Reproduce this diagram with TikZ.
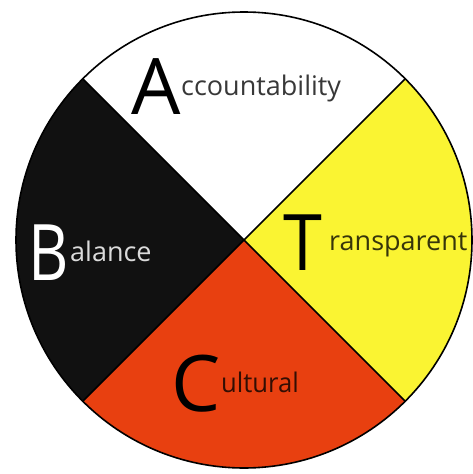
\documentclass[tikz,border=0pt]{standalone}
\usepackage{fontspec}
\setmainfont{Open Sans}
\usetikzlibrary{calc}

\definecolor{wheelyellow}{RGB}{250,244,50}
\definecolor{wheelred}{RGB}{232,64,16}
\definecolor{wheelblack}{RGB}{17,17,17}

\tikzset{
  rim/.style={draw=black, line width=1.6pt},
  initial/.style={inner sep=0pt, anchor=base west, font=\fontsize{78}{78}\selectfont},
  resttext/.style={inner sep=0pt, anchor=base west, font=\fontsize{27}{27}\selectfont, text opacity=0.78}
}

\begin{document}
\begin{tikzpicture}[x=1pt, y=-1pt]

  \useasboundingbox (0,0) rectangle (472,474);

  % pusat roda dan titik ujung diagonal
  \coordinate (O) at (244,240);
  \coordinate (ne) at ($(O)+(-45:228)$);
  \coordinate (se) at ($(O)+(45:228)$);
  \coordinate (sw) at ($(O)+(135:228)$);
  \coordinate (nw) at ($(O)+(225:228)$);

  % --- empat kuadran ---
  \fill[white]       (O) -- (nw) arc[start angle=225, end angle=315, radius=228] -- cycle;
  \fill[wheelyellow] (O) -- (ne) arc[start angle=-45, end angle=45, radius=228] -- cycle;
  \fill[wheelred]    (O) -- (se) arc[start angle=45, end angle=135, radius=228] -- cycle;
  \fill[wheelblack]  (O) -- (sw) arc[start angle=135, end angle=225, radius=228] -- cycle;

  % garis diagonal dan lingkaran luar
  \draw[rim] (nw) -- (se);
  \draw[rim] (ne) -- (sw);
  \draw[rim] (O) circle[radius=228];

  % --- label ---
  \node[initial] (A) at (131,114) {A};
  \node[resttext] (accnt) at (181,95) {ccountability};

  \node[initial] (T) at (283,270) {\scalebox{0.9}[1]{T}};
  \node[resttext] (trans) at (329,250) {ransparent};

  \node[initial, white] (B) at (28,280) {\scalebox{0.8}[1]{B}};
  \node[resttext, white, text opacity=0.85] (bal) at (70,261) {alance};

  \node[initial] (C) at (171,411) {C};
  \node[resttext] (cult) at (221,392) {\scalebox{0.95}[1]{ultural}};

\end{tikzpicture}
\end{document}
